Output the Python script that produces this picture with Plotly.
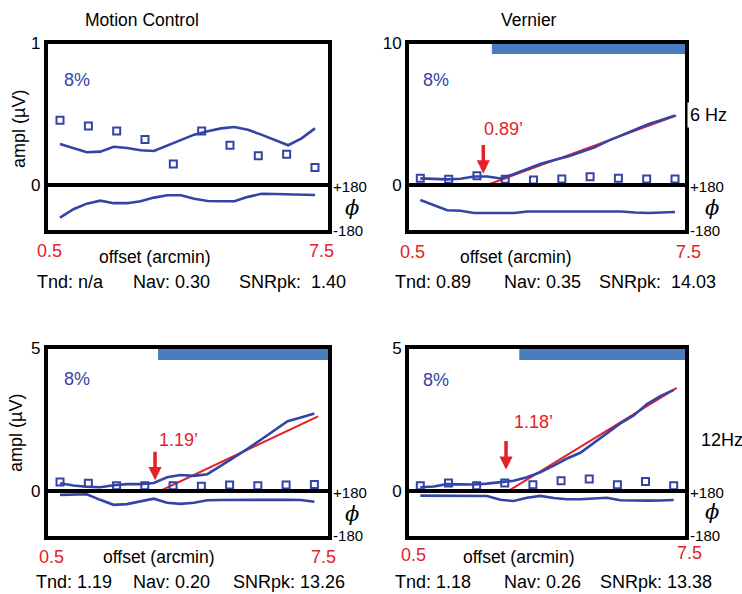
import math
import plotly.graph_objects as go

W, H = 742, 594

# ---------------- data ----------------
# offsets (arcmin) of the sampled sweep curve and of the 10 sweep bins
offset_grid = [0.5, 0.577, 0.665, 0.767, 0.884, 1.020, 1.176, 1.356, 1.564, 1.803,
               2.080, 2.398, 2.766, 3.189, 3.678, 4.241, 4.891, 5.640, 6.505, 7.5]
sweep_bins = [0.5, 0.676, 0.913, 1.233, 1.666, 2.251, 3.041, 4.108, 5.550, 7.5]

# Motion control, 6 Hz
mc6_amp = [0.29, 0.258, 0.231, 0.236, 0.27, 0.262, 0.245, 0.24, 0.28, 0.318,
           0.356, 0.38, 0.40, 0.41, 0.39, 0.356, 0.32, 0.281, 0.33, 0.40]
mc6_phase = [-75, -6, 40, 65, 44, 44, 60, 90, 109, 109,
             80, 62, 60, 60, 96, 121, 120, 117, 114, 111]
mc6_noise = [0.457, 0.417, 0.382, 0.321, 0.148, 0.382, 0.281, 0.206, 0.218, 0.124]

# Vernier, 6 Hz
vn6_amp = [0.47, 0.43, 0.40, 0.44, 0.60, 0.60, 0.46, 0.78, 1.17, 1.51,
           1.76, 2.01, 2.33, 2.66, 3.12, 3.50, 3.92, 4.29, 4.60, 4.92]
vn6_phase = [70, 27, -15, -19, -37, -37, -37, -37, -25, -25,
             -25, -24, -24, -24, -25, -25, -33, -37, -33, -29]
vn6_noise = [0.47, 0.40, 0.65, 0.40, 0.35, 0.42, 0.58, 0.47, 0.42, 0.42]

# Motion control, 12 Hz
mc12_amp = [0.27, 0.19, 0.15, 0.13, 0.20, 0.24, 0.24, 0.28, 0.48, 0.56,
            0.53, 0.59, 0.88, 1.17, 1.48, 1.80, 2.12, 2.45, 2.58, 2.72]
mc12_phase = [162, 167, 167, 120, 78, 84, 110, 130, 95, 86,
              96, 117, 119, 120, 120, 120, 120, 120, 118, 104]
mc12_noise = [0.32, 0.27, 0.185, 0.185, 0.185, 0.17, 0.21, 0.185, 0.21, 0.23]

# Vernier, 12 Hz
vn12_amp = [0.13, 0.16, 0.24, 0.24, 0.23, 0.26, 0.30, 0.36, 0.48, 0.66,
            0.89, 1.14, 1.34, 1.69, 2.04, 2.37, 2.65, 3.05, 3.33, 3.55]
vn12_phase = [155, 155, 155, 155, 155, 152, 120, 110, 137, 153,
              136, 125, 125, 131, 137, 116, 113, 113, 115, 119]
vn12_noise = [0.18, 0.28, 0.18, 0.28, 0.22, 0.36, 0.42, 0.22, 0.33, 0.18]

# regression fits (offset, amplitude) and thresholds
fit_x = [None, [1.016, 7.6], [1.45, 7.8], [1.28, 7.75]]
fit_y = [None, [0.0, 4.9], [0.0, 2.62], [0.0, 3.62]]
thresholds = [None, "0.89", "1.19", "1.18"]
arrow_x = [None, 0.977, 1.375, 1.25]
arrow_amp = [None, 0.82, 0.38, 0.75]
sig_start = [None, 1.07, 1.42, 1.44]   # start of significant region (bar)
amp_max = [1, 10, 5, 5]

stats_tnd = ["Tnd: n/a", "Tnd: 0.89", "Tnd: 1.19", "Tnd: 1.18"]
stats_nav = ["Nav: 0.30", "Nav: 0.35", "Nav: 0.20", "Nav: 0.26"]
stats_snr = ["SNRpk:\u00a0 1.40", "SNRpk:\u00a0 14.03", "SNRpk: 13.26", "SNRpk: 13.38"]

amps = [mc6_amp, vn6_amp, mc12_amp, vn12_amp]
phases = [mc6_phase, vn6_phase, mc12_phase, vn12_phase]
noises = [mc6_noise, vn6_noise, mc12_noise, vn12_noise]

# ---------------- styling / layout ----------------
BLUE = "#3444A6"
RED = "#E42127"
BAR = "#4A7DC0"
FONT = "Liberation Sans, Arial, sans-serif"

def fx(p):
    return p / W

def fy(p):
    return 1 - p / H

x_dom = [[47.5, 328.3], [408.8, 685.3], [47.5, 328.3], [408.8, 685.3]]
amp_dom = [[185, 43.5], [185, 43.5], [491, 348.5], [491, 348.5]]
ph_dom = [[230.3, 186.7], [230.3, 186.7], [535.5, 492.7], [535.5, 492.7]]
x_rng = [[-0.3587, 0.9365], [-0.3542, 0.9226], [-0.3589, 0.9394], [-0.3544, 0.9290]]
bar_lo = [None, 0.925, 0.92, 0.92]

fig = go.Figure()
layout = dict(width=W, height=H, margin=dict(l=0, r=0, t=0, b=0),
              paper_bgcolor="white", plot_bgcolor="white", showlegend=False,
              font=dict(family=FONT, color="black"))
annotations = []

LW = 3.5

for i in range(4):
    ia, ip = 2 * i + 1, 2 * i + 2
    xa = "x" if ia == 1 else f"x{ia}"
    ya = "y" if ia == 1 else f"y{ia}"
    xp, yp = f"x{ip}", f"y{ip}"
    kxa = "xaxis" if ia == 1 else f"xaxis{ia}"
    kya = "yaxis" if ia == 1 else f"yaxis{ia}"
    kxp, kyp = f"xaxis{ip}", f"yaxis{ip}"
    dom_x = [fx(x_dom[i][0]), fx(x_dom[i][1])]
    amax = amp_max[i]

    layout[kxa] = dict(type="log", range=x_rng[i], domain=dom_x, anchor=ya, side="top",
                       showline=True, linewidth=LW, linecolor="black", mirror=False,
                       showgrid=False, zeroline=False, showticklabels=False, ticks="",
                       automargin=False)
    layout[kxp] = dict(type="log", range=x_rng[i], domain=dom_x, anchor=yp, matches=xa,
                       showline=True, linewidth=LW, linecolor="black", mirror=True,
                       showgrid=False, zeroline=False, showticklabels=False, ticks="",
                       automargin=False)
    layout[kya] = dict(range=[0, amax], domain=[fy(amp_dom[i][0]), fy(amp_dom[i][1])],
                       anchor=xa, showline=True, linewidth=LW, linecolor="black", mirror=True,
                       showgrid=False, zeroline=False, ticks="", tickvals=[0, amax],
                       ticktext=["0", str(amax)], tickfont=dict(size=17, color="black"),
                       automargin=False)
    layout[kyp] = dict(range=[-180, 180], domain=[fy(ph_dom[i][0]), fy(ph_dom[i][1])],
                       anchor=xp, side="right", showline=True, linewidth=LW,
                       linecolor="black", mirror=True, showgrid=False, zeroline=False,
                       ticks="", tickvals=[-180, 180], ticktext=["-180", "+180"],
                       tickfont=dict(size=15, color="black"), ticklabelstandoff=-2,
                       automargin=False)

    # significance bar
    if sig_start[i] is not None:
        s = sig_start[i]
        lo, hi = bar_lo[i] * amax, amax * 1.05
        fig.add_trace(go.Scatter(x=[s, 20, 20, s, s], y=[lo, lo, hi, hi, lo],
                                 fill="toself", fillcolor=BAR, mode="lines",
                                 line=dict(width=0, color=BAR), xaxis=xa, yaxis=ya,
                                 hoverinfo="skip"))
    # regression line
    if fit_x[i] is not None:
        fig.add_trace(go.Scatter(x=fit_x[i], y=fit_y[i], mode="lines",
                                 line=dict(color=RED, width=2), xaxis=xa, yaxis=ya))
    # amplitude curve
    fig.add_trace(go.Scatter(x=offset_grid, y=amps[i], mode="lines",
                             line=dict(color=BLUE, width=2.6), xaxis=xa, yaxis=ya))
    # noise / bin amplitudes
    fig.add_trace(go.Scatter(x=sweep_bins, y=noises[i], mode="markers",
                             marker=dict(symbol="square-open", size=7, color=BLUE,
                                         line=dict(width=2, color=BLUE)),
                             xaxis=xa, yaxis=ya, cliponaxis=False))
    # phase curve
    fig.add_trace(go.Scatter(x=offset_grid, y=phases[i], mode="lines",
                             line=dict(color=BLUE, width=2.6), xaxis=xp, yaxis=yp))

    # threshold arrow
    if arrow_x[i] is not None:
        annotations.append(dict(x=math.log10(arrow_x[i]), y=arrow_amp[i], xref=xa, yref=ya,
                                text="", showarrow=True, ax=0, ay=-30,
                                arrowhead=2, arrowsize=0.75, arrowwidth=3.5,
                                arrowcolor=RED))


def txt(text, x, y, size=17.5, color="black", xanchor="center", **kw):
    d = dict(text=text, x=fx(x), y=fy(y), xref="paper", yref="paper", showarrow=False,
             xanchor=xanchor, yanchor="middle", font=dict(size=size, color=color, family=FONT))
    d.update(kw)
    annotations.append(d)


txt("Motion Control", 142, 20)
txt("Vernier", 529, 20)
txt("ampl (µV)", 19, 129, size=18, textangle=-90)
txt("ampl (µV)", 16, 433, size=18, textangle=-90)
for (x, y) in [(155, 257), (516, 257), (159, 557), (519, 557)]:
    txt("offset (arcmin)", x, y)
for (x, y, t) in [(49, 251, "0.5"), (321, 251, "7.5"), (412, 252, "0.5"), (688, 252, "7.5"),
                  (51, 557, "0.5"), (323, 557, "7.5"), (414, 555, "0.5"), (689, 553, "7.5")]:
    txt(t, x, y, size=18, color=RED)
for (x, y) in [(77, 80), (436, 80), (77, 379), (436, 380)]:
    txt("8%", x, y, size=18, color=BLUE)
for (x, y) in [(352, 208), (712, 208), (352, 514), (712, 512)]:
    annotations.append(dict(text="<i>ϕ</i>", x=fx(x), y=fy(y), xref="paper", yref="paper",
                            showarrow=False, xanchor="center", yanchor="middle",
                            font=dict(size=21, color="black",
                                      family="DejaVu Serif, Liberation Serif, serif")))
txt("6 Hz", 687, 115, size=18, xanchor="left", bgcolor="white", borderpad=2)
txt("12Hz", 699, 440, size=18, xanchor="left")
for (x, y, i) in [(503, 129, 1), (178, 440, 2), (533, 422, 3)]:
    txt(thresholds[i] + "\u2019", x, y, size=18, color=RED)

stat_pos = [(282, 36, 132, 238), (282, 394, 503, 598), (582, 35, 132, 232), (582, 394, 503, 599)]
for i, (y, x1, x2, x3) in enumerate(stat_pos):
    txt(stats_tnd[i], x1, y, size=18, xanchor="left", borderpad=0)
    txt(stats_nav[i], x2, y, size=18, xanchor="left", borderpad=0)
    txt(stats_snr[i], x3, y, size=18, xanchor="left", borderpad=0)

layout["annotations"] = annotations
fig.update_layout(**layout)
fig.write_html("out.html")
